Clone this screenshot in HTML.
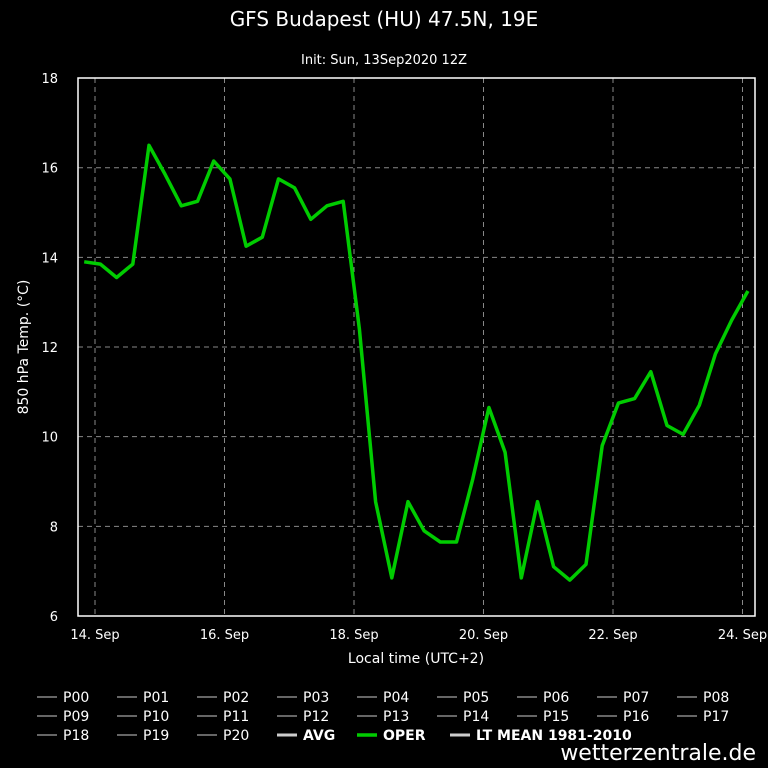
<!DOCTYPE html>
<html><head><meta charset="utf-8"><style>
body{margin:0;background:#000;}
svg{display:block;font-family:"DejaVu Sans","Liberation Sans",sans-serif;}
</style></head><body>
<svg id="chart" width="768" height="768" viewBox="0 0 768 768">
<rect width="768" height="768" fill="#000"/>
<text x="384" y="26" fill="#fff" font-size="20" text-anchor="middle">GFS Budapest (HU) 47.5N, 19E</text>
<text x="384" y="64" fill="#fff" font-size="13" text-anchor="middle">Init: Sun, 13Sep2020 12Z</text>
<g id="grid"></g>
<rect x="78" y="78" width="677" height="538" fill="none" stroke="#fff" stroke-width="1.5"/>
<g id="axes"></g>
<g id="series"></g>
<text x="28" y="347" fill="#fff" font-size="14" text-anchor="middle" transform="rotate(-90 28 347)">850 hPa Temp. (°C)</text>
<text x="416" y="663" fill="#fff" font-size="14" text-anchor="middle">Local time (UTC+2)</text>
<g id="legend"></g>
<text x="756" y="760" fill="#fff" font-size="22" text-anchor="end">wetterzentrale.de</text>
</svg>
<script>
const yTicks=[6,8,10,12,14,16,18];
const xTickLabels=["14. Sep","16. Sep","18. Sep","20. Sep","22. Sep","24. Sep"];
const xTickDays=[1,3,5,7,9,11];
// OPER 850hPa temp, 6-hourly from 13 Sep 20:00 local
const operValues=[13.9,13.85,13.55,13.85,16.5,15.85,15.15,15.25,16.15,15.75,14.25,14.45,15.75,15.55,14.85,15.15,15.25,12.4,8.55,6.85,8.55,7.9,7.65,7.65,9.05,10.65,9.65,6.85,8.55,7.1,6.8,7.15,9.8,10.75,10.85,11.45,10.25,10.05,10.7,11.85,12.6,13.25];
const startDay=-1/6; // days relative to 14 Sep 00:00
const legendItems=["P00","P01","P02","P03","P04","P05","P06","P07","P08","P09","P10","P11","P12","P13","P14","P15","P16","P17","P18","P19","P20","AVG","OPER","LT MEAN 1981-2010"];

const NS="http://www.w3.org/2000/svg";
const X0=95, DAY=64.75, Y0=616, YU=44.83;
const xs=d=>X0+d*DAY, ys=v=>Y0-(v-6)*YU;
function mk(tag,attrs,parent){const e=document.createElementNS(NS,tag);for(const k in attrs)e.setAttribute(k,attrs[k]);parent.appendChild(e);return e;}
const grid=document.getElementById('grid'),axes=document.getElementById('axes'),series=document.getElementById('series'),legend=document.getElementById('legend');
yTicks.forEach(v=>{
  const y=ys(v);
  if(v>6&&v<18){const l=mk('line',{x1:78,x2:755,y1:y,y2:y,stroke:'#888','stroke-dasharray':'5,4','stroke-width':1},grid);
  
  }
  const t=mk('text',{x:58,y:y+5,fill:'#fff','font-size':13,'text-anchor':'end'},axes);t.textContent=v;
  
  
});
xTickDays.forEach((d,i)=>{
  const x=xs(d-1);
  const l=mk('line',{x1:x,x2:x,y1:78,y2:616,stroke:'#888','stroke-dasharray':'5,4','stroke-width':1},grid);
  
  
  const t=mk('text',{x:x,y:639,fill:'#fff','font-size':13,'text-anchor':'middle'},axes);t.textContent=xTickLabels[i];
  
  
});
const pts=operValues.map((v,i)=>xs(startDay+i*0.25).toFixed(1)+','+ys(v).toFixed(1)).join(' ');
const pl=mk('polyline',{points:pts,fill:'none',stroke:'#00cc00','stroke-width':3.5,'stroke-linejoin':'round'},series);


legendItems.forEach((name,i)=>{
  const row=Math.floor(i/9),col=i%9;
  let x=37+col*80;const y=697+row*19;
  if(name.startsWith('LT'))x=450;
  let stroke='#888',w=1.5,bold=false;
  if(name==='AVG'){stroke='#ccc';w=3;bold=true;}
  if(name==='OPER'){stroke='#00cc00';w=3.5;bold=true;}
  if(name.startsWith('LT')){stroke='#ccc';w=3;bold=true;}
  const g=mk('g',{},legend);
  
  
  mk('line',{x1:x,x2:x+20,y1:y,y2:y,stroke:stroke,'stroke-width':w},g);
  const t=mk('text',{x:x+26,y:y+5,fill:'#fff','font-size':14,'font-weight':bold?'bold':'normal'},g);t.textContent=name;
});
</script>
</body></html>
